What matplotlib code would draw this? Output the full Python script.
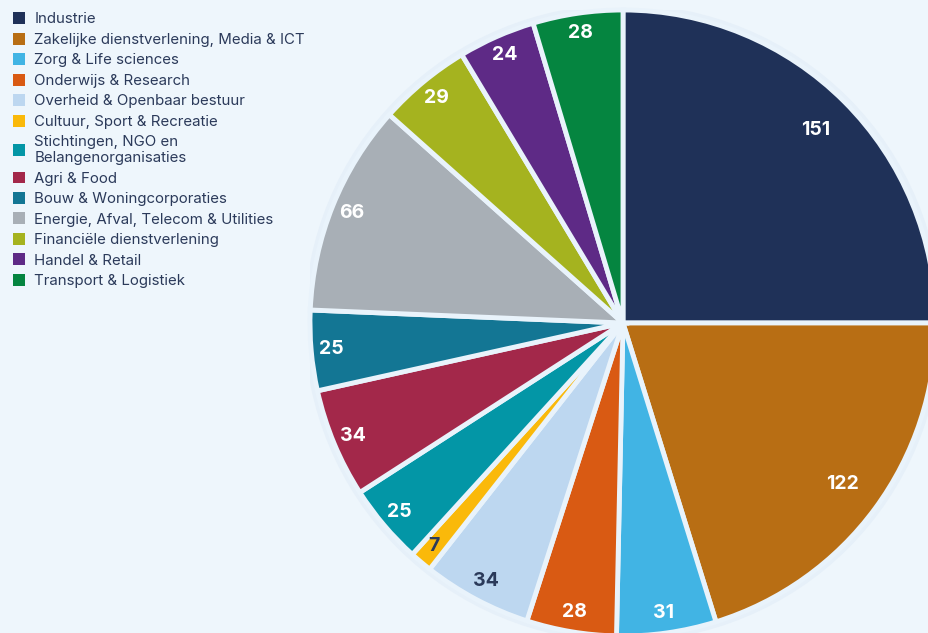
import matplotlib.pyplot as plt
from matplotlib.patches import Circle
import numpy as np

labels = ["Industrie", "Zakelijke dienstverlening, Media & ICT", "Zorg & Life sciences",
          "Onderwijs & Research", "Overheid & Openbaar bestuur", "Cultuur, Sport & Recreatie",
          "Stichtingen, NGO en\nBelangenorganisaties", "Agri & Food", "Bouw & Woningcorporaties",
          "Energie, Afval, Telecom & Utilities", "Financiële dienstverlening",
          "Handel & Retail", "Transport & Logistiek"]
values = [151, 122, 31, 28, 34, 7, 25, 34, 25, 66, 29, 24, 28]
colors = ["#1F3158", "#B86E14", "#41B4E4", "#D95A13", "#BDD7F0", "#FAB90A", "#0396A6",
          "#A3284A", "#137694", "#A8AFB6", "#A5B31F", "#5E2A86", "#058540"]
dark_labels = ["Overheid & Openbaar bestuur", "Cultuur, Sport & Recreatie"]

bg = "#EEF6FC"
navy = "#2B3A5A"
plt.rcParams['font.family'] = ['Inter', 'DejaVu Sans']

fig = plt.figure(figsize=(9.29, 6.33), dpi=100, facecolor=bg)
# pie centre at (623, 323) px from top-left, radius ~313 px
r = 313
ax = fig.add_axes([(623 - r) / 929, (310 - r) / 633, 2 * r / 929, 2 * r / 633])
ax.set_facecolor(bg)

# faint halo behind the pie
ax.add_patch(Circle((0, 0), 1.018, facecolor="#E6F0F9", edgecolor="none", zorder=0))

wedges, texts = ax.pie(values, colors=colors, startangle=90, counterclock=False,
                       wedgeprops=dict(edgecolor="#E9F3FB", linewidth=3.5))
ax.set_xlim(-1, 1)
ax.set_ylim(-1, 1)
ax.set_aspect('equal')

for w, lab, v in zip(wedges, labels, values):
    ang = np.deg2rad((w.theta1 + w.theta2) / 2)
    d = 0.87 if v > 100 else 0.935
    c = navy if lab in dark_labels else "white"
    ax.text(d * np.cos(ang), d * np.sin(ang), str(v), ha="center", va="center",
            color=c, fontsize=14, fontweight="bold")

leg = fig.legend(wedges, labels, loc="upper left", bbox_to_anchor=(0.004, 0.995),
                 frameon=False, fontsize=10.8, labelcolor=navy, handlelength=0.85,
                 handleheight=0.85, handletextpad=0.6, labelspacing=0.42, borderaxespad=0.2)
for h in leg.legend_handles:
    h.set_linewidth(0)

fig.savefig("out.png", dpi=100, facecolor=bg)
